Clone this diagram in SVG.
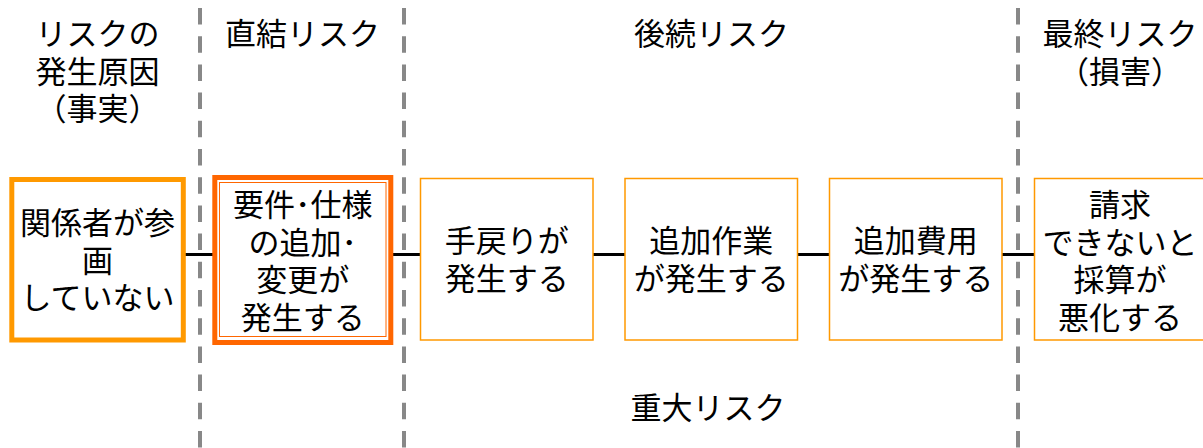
<svg xmlns="http://www.w3.org/2000/svg" width="1203" height="448" viewBox="0 0 1203 448">
<style>
text{font-family:"Noto Sans CJK JP","Noto Sans CJK SC",sans-serif;font-size:31px;fill:#000;text-anchor:middle}
.div{stroke:#888;stroke-width:4;stroke-dasharray:16.5 11.7;fill:none}
.thin{fill:#fff;stroke:#FF9900;stroke-width:1.5}
.conn{stroke:#000;stroke-width:3;fill:none}
</style>
<rect width="1203" height="448" fill="#fff"/>
<g id="dividers">
<line class="div" x1="200" y1="8" x2="200" y2="448"/>
<line class="div" x1="404" y1="8" x2="404" y2="448"/>
<line class="div" x1="1018" y1="8" x2="1018" y2="448"/>
</g>
<g id="headers">
<text x="97.5" y="45"><tspan x="97.5">リスクの</tspan><tspan x="97.5" dy="37.5">発生原因</tspan><tspan x="97.5" dy="37.5">（事実）</tspan></text>
<text x="302.5" y="45">直結リスク</text>
<text x="711.5" y="45">後続リスク</text>
<text x="1120" y="45"><tspan x="1120">最終リスク</tspan><tspan x="1120" dy="37.5">（損害）</tspan></text>
<text x="708" y="419">重大リスク</text>
</g>
<g id="connectors">
<line class="conn" x1="185" y1="254.5" x2="213" y2="254.5"/>
<line class="conn" x1="392" y1="254.5" x2="421" y2="254.5"/>
<line class="conn" x1="593" y1="254.5" x2="625" y2="254.5"/>
<line class="conn" x1="797" y1="254.5" x2="829" y2="254.5"/>
<line class="conn" x1="1002" y1="254.5" x2="1034" y2="254.5"/>
</g>
<g id="n1">
<rect x="11.8" y="179.5" width="171.5" height="160.5" fill="#fff" stroke="#FF9900" stroke-width="5"/>
<text x="97.5" y="234"><tspan x="97.5">関係者が参</tspan><tspan x="97.5" dy="37.5">画</tspan><tspan x="97.5" dy="37.5">していない</tspan></text>
</g>
<g id="n2">
<rect x="214.8" y="177.5" width="176" height="165" fill="#fff" stroke="#FF6600" stroke-width="5"/>
<rect x="219.5" y="182.5" width="166.5" height="154" fill="none" stroke="#FF6600" stroke-width="1"/>
<text x="302.8" y="216"><tspan x="302.8">要件･仕様</tspan><tspan x="302.8" dy="37.5">の追加･</tspan><tspan x="302.8" dy="37.5">変更が</tspan><tspan x="302.8" dy="37.5">発生する</tspan></text>
</g>
<g id="n3">
<rect class="thin" x="420.5" y="178.5" width="172.5" height="161.5"/>
<text x="506.8" y="252"><tspan x="506.8">手戻りが</tspan><tspan x="506.8" dy="37.5">発生する</tspan></text>
</g>
<g id="n4">
<rect class="thin" x="625" y="178.5" width="172.5" height="161.5"/>
<text x="711.2" y="252"><tspan x="711.2">追加作業</tspan><tspan x="711.2" dy="37.5">が発生する</tspan></text>
</g>
<g id="n5">
<rect class="thin" x="829.5" y="178.5" width="172.5" height="161.5"/>
<text x="915.7" y="252"><tspan x="915.7">追加費用</tspan><tspan x="915.7" dy="37.5">が発生する</tspan></text>
</g>
<g id="n6">
<rect class="thin" x="1034.5" y="178.5" width="172.5" height="161.5"/>
<text x="1120" y="216"><tspan x="1120">請求</tspan><tspan x="1120" dy="37.5">できないと</tspan><tspan x="1120" dy="37.5">採算が</tspan><tspan x="1120" dy="37.5">悪化する</tspan></text>
</g>
</svg>
